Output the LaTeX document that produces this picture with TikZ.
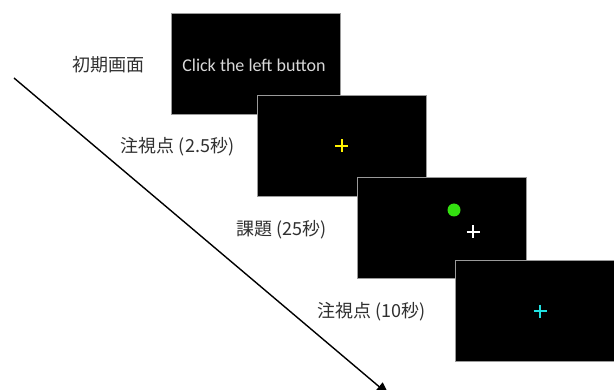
\documentclass[tikz,border=0pt]{standalone}
\usepackage{fontspec}
\setmainfont{Liberation Sans}
\newfontfamily\cjk{Noto Sans CJK JP}
\newfontfamily\calibri{Carlito}
\usetikzlibrary{arrows.meta}
\definecolor{labelgray}{HTML}{303030}
\definecolor{edgegray}{HTML}{9A9A9A}
\definecolor{dotgreen}{HTML}{33E010}
\definecolor{crosscyan}{HTML}{20E0E0}
\tikzset{
  screen/.style={draw=edgegray, line width=1pt, fill=black, minimum width=169pt, minimum height=101pt, inner sep=0pt},
  lbl/.style={text=labelgray, font=\fontsize{18pt}{20pt}\selectfont, inner sep=0pt},
  plus/.pic={\draw[line width=2pt, pic actions] (-6.5,0) -- (6.5,0) (0,-6.5) -- (0,6.5);}
}
\begin{document}
\begin{tikzpicture}[x=1pt,y=-1pt]
\clip (0,0) rectangle (614,390);
\useasboundingbox (0,0) rectangle (614,390);
% screens
\node[screen] (s1) at (255.5,64.5) {};
\node[text=white!85!black, font=\calibri\fontsize{18pt}{20pt}\selectfont, inner sep=0pt] (t1) at (254,65) {Click the left button};
\node[screen] (s2) at (341.5,146) {};
\pic[yellow] at (s2.center) {plus};
\node[screen] (s3) at (442,228.5) {};
\fill[dotgreen] (454,210) circle (6.5);
\pic[white] at (473,232) {plus};
\node[screen, minimum width=170pt] (s4) at (540,311.5) {};
\pic[crosscyan] at (s4.center) {plus};
% labels
\node[lbl] (l1) at (108,65) {\cjk{初期画面}};
\node[lbl] (l2) at (177.5,147) {\cjk{注視点} (2.5\cjk{秒})};
\node[lbl] (l3) at (281.5,230) {\cjk{課題} (25\cjk{秒})};
\node[lbl] (l4) at (371.5,312) {\cjk{注視点} (10\cjk{秒})};
% time arrow
\coordinate (a0) at (14,78);
\coordinate (a1) at (389,395);
\draw[line width=1.4pt, -{Triangle[length=13pt,width=11pt]}] (a0) -- (a1);
\end{tikzpicture}
\end{document}
